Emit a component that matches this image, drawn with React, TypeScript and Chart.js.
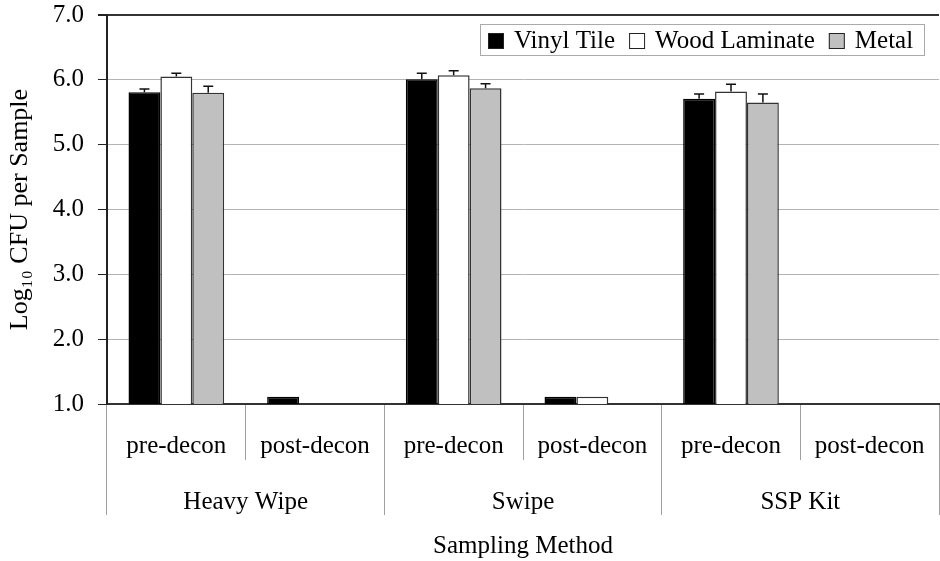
import React, { useEffect, useRef } from "react";
import { Chart, registerables } from "chart.js";

Chart.register(...registerables);

const subLabels = ["pre-decon", "post-decon", "pre-decon", "post-decon", "pre-decon", "post-decon"];
const groupLabels = ["Heavy Wipe", "Swipe", "SSP Kit"];
const seriesNames = ["Vinyl Tile", "Wood Laminate", "Metal"];

const vinylTile = [5.81, 1.11, 6.01, 1.11, 5.71, null];
const woodLaminate = [6.05, null, 6.07, 1.11, 5.82, null];
const metal = [5.80, null, 5.87, null, 5.65, null];

const vinylErr = [0.05, 0, 0.09, 0, 0.07, 0];
const woodErr = [0.05, 0, 0.07, 0, 0.11, 0];
const metalErr = [0.10, 0, 0.07, 0, 0.13, 0];

const yTicks = [1, 2, 3, 4, 5, 6, 7];

const fills = ["#000000", "#ffffff", "#c0c0c0"];
const FONT = '"Liberation Serif", "Times New Roman", serif';

const errorBarPlugin = {
  id: "errorBars",
  afterDatasetsDraw(chart: any) {
    const { ctx } = chart;
    const yScale = chart.scales.y;
    chart.data.datasets.forEach((ds: any, di: number) => {
      const meta = chart.getDatasetMeta(di);
      const errs = ds.errors || [];
      meta.data.forEach((el: any, i: number) => {
        const v = ds.data[i];
        const e = errs[i];
        if (v == null || !e) return;
        const x = el.x;
        const yTop = yScale.getPixelForValue(v);
        const yErr = yScale.getPixelForValue(v + e);
        ctx.save();
        ctx.strokeStyle = "#111";
        ctx.lineWidth = 1.5;
        ctx.beginPath();
        ctx.moveTo(x, yTop);
        ctx.lineTo(x, yErr);
        ctx.moveTo(x - 5, yErr);
        ctx.lineTo(x + 5, yErr);
        ctx.stroke();
        ctx.restore();
      });
    });
  },
};

const boxLegendPlugin = {
  id: "boxLegend",
  afterDraw(chart: any) {
    const { ctx } = chart;
    const boxLeft = 480, boxTop = 24, boxW = 445, boxH = 32;
    ctx.save();
    ctx.fillStyle = "#fff";
    ctx.fillRect(boxLeft, boxTop, boxW, boxH);
    ctx.strokeStyle = "#aaa";
    ctx.lineWidth = 1;
    ctx.strokeRect(boxLeft + 0.5, boxTop + 0.5, boxW - 1, boxH - 1);
    ctx.font = `25px ${FONT}`;
    ctx.textBaseline = "middle";
    ctx.fillStyle = "#000";
    const cy = boxTop + boxH / 2 + 1;
    let x = 488;
    chart.data.datasets.forEach((ds: any) => {
      const sq = 16;
      ctx.fillStyle = ds.backgroundColor;
      ctx.fillRect(x, cy - sq / 2, sq, sq);
      ctx.strokeStyle = "#222";
      ctx.lineWidth = 1;
      ctx.strokeRect(x + 0.5, cy - sq / 2 + 0.5, sq - 1, sq - 1);
      x += sq + 10;
      ctx.fillStyle = "#000";
      ctx.textAlign = "left";
      ctx.fillText(ds.label, x, cy);
      x += ctx.measureText(ds.label).width + 14;
    });
    ctx.restore();
  },
};

export default function App() {
  const canvasRef = useRef<HTMLCanvasElement | null>(null);

  useEffect(() => {
    if (!canvasRef.current) return;
    Chart.defaults.font.family = FONT;
    Chart.defaults.color = "#000";
    const chart = new Chart(canvasRef.current, {
      type: "bar",
      data: {
        labels: subLabels,
        datasets: [
          { label: seriesNames[0], data: vinylTile, errors: vinylErr, backgroundColor: fills[0], borderColor: "#000", borderWidth: 1.5, xAxisID: "x" } as any,
          { label: seriesNames[1], data: woodLaminate, errors: woodErr, backgroundColor: fills[1], borderColor: "#333", borderWidth: 1.5, xAxisID: "x" } as any,
          { label: seriesNames[2], data: metal, errors: metalErr, backgroundColor: fills[2], borderColor: "#333", borderWidth: 1.5, xAxisID: "x" } as any,
        ],
      },
      options: {
        animation: false,
        responsive: true,
        maintainAspectRatio: false,
        layout: { padding: { top: 15, right: 1, left: 0, bottom: 0 } },
        datasets: { bar: { categoryPercentage: 0.69, barPercentage: 1.0 } },
        plugins: { legend: { display: false }, tooltip: { enabled: false } },
        scales: {
          x: {
            type: "category",
            position: "bottom",
            offset: true,
            grid: { offset: true, drawOnChartArea: false, tickLength: 56, color: "#a0a0a0", lineWidth: 1 },
            border: { display: true, color: "#333", width: 2 },
            ticks: { font: { size: 25 }, padding: -29, autoSkip: false, maxRotation: 0, minRotation: 0 },
            afterFit: (s: any) => { s.height = 56; s.paddingLeft = 0; s.paddingRight = 0; },
          },
          x2: {
            type: "category",
            position: "bottom",
            labels: groupLabels,
            offset: true,
            grid: { offset: true, drawOnChartArea: false, tickLength: 55, color: "#a0a0a0", lineWidth: 1 },
            border: { display: false },
            ticks: { font: { size: 25 }, padding: -28, autoSkip: false, maxRotation: 0, minRotation: 0 },
            title: { display: true, text: "Sampling Method", font: { size: 25 }, padding: { top: 0, bottom: 0 } },
            afterFit: (s: any) => { s.height = 101; s.paddingLeft = 0; s.paddingRight = 0; },
          },
          y: {
            min: yTicks[0],
            max: yTicks[yTicks.length - 1],
            ticks: {
              stepSize: 0.5,
              font: { size: 25 },
              padding: 14,
              callback: (v: any) => (Number.isInteger(v) ? Number(v).toFixed(1) : ""),
            },
            grid: {
              tickLength: 9,
              tickColor: "#222",
              color: (c: any) => {
                const v = c.tick ? c.tick.value : 0;
                if (v === 7) return "#333";
                if (v === 1) return "rgba(0,0,0,0)";
                return Number.isInteger(v) ? "#b4b4b4" : "rgba(0,0,0,0)";
              },
              lineWidth: (c: any) => (c.tick && c.tick.value === 7 ? 2 : 1),
            },
            border: { display: true, color: "#222", width: 2 },
            title: { display: true, text: "Log₁₀ CFU per Sample", font: { size: 26 }, padding: { top: 5, bottom: 0 } },
            afterFit: (s: any) => { s.width = 107; s.paddingTop = 0; s.paddingBottom = 0; },
          },
        },
      } as any,
      plugins: [errorBarPlugin, boxLegendPlugin],
    });
    return () => chart.destroy();
  }, []);

  return (
    <div style={{ position: "fixed", left: 0, top: 0, width: 940, height: 561, background: "#fff" }}>
      <canvas ref={canvasRef} />
    </div>
  );
}
